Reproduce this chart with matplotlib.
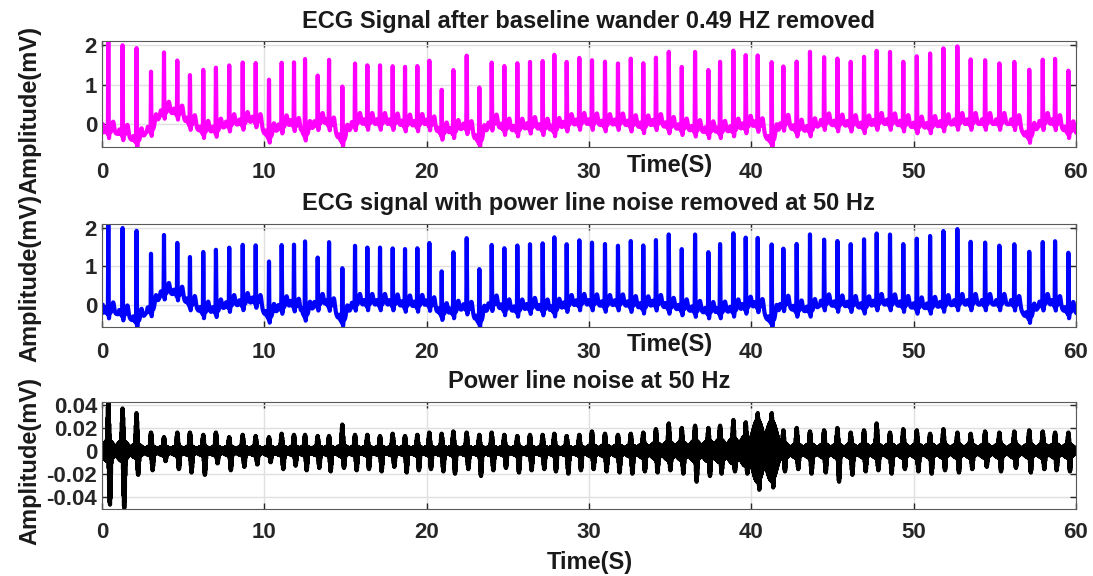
import numpy as np
import matplotlib
matplotlib.use("Agg")
from matplotlib import pyplot as plt

plt.rcParams['font.family'] = ['Liberation Sans', 'DejaVu Sans']
plt.rcParams['font.weight'] = 'bold'

# R-peak times (s)
beat_t = [0.39, 1.27, 2.13, 3.02, 3.82, 4.64, 5.42, 6.24, 7.02, 7.84,
          8.67, 9.47, 10.29, 11.07, 11.83, 12.51, 13.29, 13.99, 14.81, 15.59,
          16.35, 17.13, 17.91, 18.67, 19.43, 20.17, 20.93, 21.65, 22.47, 23.25,
          24.01, 24.79, 25.59, 26.37, 27.15, 27.87, 28.63, 29.41, 30.19, 30.99,
          31.79, 32.58, 33.35, 34.13, 34.92, 35.72, 36.54, 37.36, 38.08, 38.90,
          39.66, 40.40, 41.26, 41.98, 42.80, 43.62, 44.49, 45.31, 46.13, 46.95,
          47.73, 48.55, 49.37, 50.20, 51.02, 51.84, 52.70, 53.52, 54.41, 55.29,
          56.21, 57.13, 57.96, 58.72, 59.54]

# R-peak amplitude (mV)
r_peak = [2.08, 2.00, 1.92, 1.32, 1.83, 1.62, 1.24, 1.37, 1.43, 1.49,
          1.56, 1.56, 1.11, 1.56, 1.59, 1.62, 1.24, 1.64, 0.93, 1.55,
          1.49, 1.49, 1.47, 1.45, 1.47, 1.62, 0.86, 1.37, 1.75, 0.90,
          1.58, 1.47, 1.54, 1.58, 1.60, 1.75, 1.58, 1.68, 1.62, 1.58,
          1.54, 1.66, 1.54, 1.69, 1.83, 1.45, 1.83, 1.37, 1.58, 1.86,
          1.75, 1.75, 1.54, 1.49, 1.58, 1.83, 1.70, 1.66, 1.58, 1.70,
          1.86, 1.83, 1.58, 1.72, 1.79, 1.92, 1.97, 1.64, 1.62, 1.54,
          1.58, 1.37, 1.64, 1.66, 1.35]

# lowest point around each beat (mV)
trough = [-0.36, -0.41, -0.59, -0.32, 0.14, 0.12, -0.15, -0.36, -0.33, -0.19,
          -0.15, -0.07, -0.49, -0.24, -0.15, -0.45, -0.15, -0.15, -0.59, -0.15,
          -0.15, -0.15, -0.15, -0.19, -0.19, -0.15, -0.41, -0.36, -0.24, -0.62,
          -0.15, -0.28, -0.32, -0.24, -0.28, -0.32, -0.19, -0.15, -0.15, -0.19,
          -0.15, -0.19, -0.24, -0.15, -0.24, -0.28, -0.32, -0.36, -0.36, -0.32,
          -0.24, -0.19, -0.62, -0.15, -0.32, -0.32, -0.15, -0.19, -0.19, -0.24,
          -0.15, -0.15, -0.19, -0.24, -0.24, -0.19, -0.15, -0.15, -0.15, -0.15,
          -0.15, -0.49, -0.15, -0.15, -0.36]

# removed 50 Hz noise around each beat: upper / lower excursion (mV)
noise_up = [0.043, 0.037, 0.033, 0.016, 0.012, 0.016, 0.016, 0.014, 0.016, 0.012,
            0.014, 0.013, 0.012, 0.015, 0.014, 0.014, 0.013, 0.013, 0.023, 0.014,
            0.014, 0.013, 0.015, 0.013, 0.014, 0.016, 0.015, 0.017, 0.016, 0.014,
            0.016, 0.014, 0.013, 0.014, 0.014, 0.015, 0.013, 0.014, 0.017, 0.015,
            0.014, 0.015, 0.016, 0.019, 0.024, 0.020, 0.022, 0.020, 0.022, 0.027,
            0.025, 0.033, 0.033, 0.018, 0.020, 0.017, 0.018, 0.020, 0.016, 0.018,
            0.024, 0.016, 0.019, 0.018, 0.015, 0.019, 0.016, 0.015, 0.017, 0.016,
            0.017, 0.018, 0.017, 0.016, 0.016]
noise_dn = [0.047, 0.050, 0.021, 0.017, 0.009, 0.016, 0.019, 0.021, 0.011, 0.017,
            0.014, 0.012, 0.010, 0.016, 0.013, 0.017, 0.015, 0.018, 0.015, 0.017,
            0.016, 0.018, 0.014, 0.019, 0.017, 0.016, 0.018, 0.020, 0.016, 0.022,
            0.017, 0.015, 0.019, 0.017, 0.016, 0.018, 0.020, 0.017, 0.016, 0.018,
            0.019, 0.020, 0.018, 0.019, 0.017, 0.020, 0.027, 0.022, 0.020, 0.018,
            0.020, 0.034, 0.032, 0.018, 0.016, 0.020, 0.019, 0.027, 0.021, 0.018,
            0.017, 0.020, 0.016, 0.018, 0.020, 0.017, 0.019, 0.016, 0.014, 0.018,
            0.015, 0.019, 0.016, 0.017, 0.018]
# steady hum level between beats (mV)
hum = [0.009, 0.009, 0.006, 0.004, 0.004, 0.004, 0.004, 0.004, 0.004, 0.004,
       0.004, 0.004, 0.004, 0.004, 0.004, 0.004, 0.004, 0.004, 0.005, 0.004,
       0.004, 0.004, 0.004, 0.004, 0.004, 0.004, 0.004, 0.004, 0.004, 0.004,
       0.004, 0.004, 0.004, 0.004, 0.004, 0.004, 0.004, 0.004, 0.005, 0.005,
       0.005, 0.005, 0.006, 0.007, 0.008, 0.008, 0.009, 0.009, 0.010, 0.011,
       0.013, 0.027, 0.026, 0.007, 0.006, 0.006, 0.006, 0.006, 0.006, 0.006,
       0.006, 0.006, 0.006, 0.006, 0.006, 0.006, 0.006, 0.006, 0.006, 0.006,
       0.006, 0.006, 0.006, 0.006, 0.006]

fs = 1000
t = np.arange(0, 60, 1 / fs)


def g(x, w):
    return np.exp(-0.5 * (x / w) ** 2)


# build ECG trace from per-beat values
weight = np.zeros_like(t)
base_acc = np.zeros_like(t)
for bt, tr in zip(beat_t, trough):
    w = g(t - bt, 0.3)
    base_acc += w * (tr + 0.15)
    weight += w
base = base_acc / np.maximum(weight, 1e-9)
ecg = base.copy()
for bt, rp, tr in zip(beat_t, r_peak, trough):
    dt = t - bt
    b = tr + 0.15
    ecg += 0.12 * g(dt + 0.2, 0.03)
    ecg -= 0.08 * g(dt + 0.03, 0.01)
    ecg += (rp - b) * g(dt, 0.012)
    ecg -= 0.15 * g(dt - 0.04, 0.015)
    ecg += 0.28 * g(dt - 0.3, 0.06)
ecg[t < 0.05] = 0.0

# removed power line noise
env_up = np.zeros_like(t)
env_dn = np.zeros_like(t)
hum_env = np.zeros_like(t)
for bt, nu, nd, h in zip(beat_t, noise_up, noise_dn, hum):
    env_up = np.maximum(env_up, nu * g(t - bt, 0.05))
    env_dn = np.maximum(env_dn, nd * g(t - bt - 0.1, 0.05))
    hum_env = np.maximum(hum_env, h * g(t - bt, 0.3))
s = np.sin(2 * np.pi * 50 * t)
noise = np.where(s > 0, s * np.maximum(env_up, hum_env), s * np.maximum(env_dn, hum_env))

fig = plt.figure(figsize=(10.93, 5.76), dpi=100)
L, W = 0.0933, 0.891
ax1 = fig.add_axes([L, 0.7448, W, 0.184])
ax2 = fig.add_axes([L, 0.4323, W, 0.179])
ax3 = fig.add_axes([L, 0.1163, W, 0.186])

ax1.plot(t, ecg, color=(1, 0, 1), lw=3)
ax2.plot(t, ecg, color=(0, 0, 1), lw=3)
ax3.plot(t, noise, color='k', lw=3)

titles = ['ECG Signal after baseline wander 0.49 HZ removed',
          'ECG signal with power line noise removed at 50 Hz',
          'Power line noise at 50 Hz']
for ax, ttl in zip([ax1, ax2, ax3], titles):
    ax.set_xlim(0, 60)
    ax.set_xticks([0, 10, 20, 30, 40, 50, 60])
    ax.grid(True, color='0.88', lw=1)
    ax.set_axisbelow(True)
    ax.tick_params(direction='in', length=4, top=True, right=True,
                   labelsize=16, colors='0.15', labelcolor='0.15', width=1)
    for sp in ax.spines.values():
        sp.set_color('0.35')
    h = ax.get_position().height * 576
    ax.set_title(ttl, fontsize=17, fontweight='bold', y=1 + 20 / h, pad=0,
                 va='center', color='0.1')

for ax in [ax1, ax2]:
    ax.set_ylim(-0.58, 2.1)
    ax.set_yticks([0, 1, 2])
    ax.tick_params(axis='x', pad=11)
    ax.set_xlabel('Time(S)', fontsize=17, fontweight='bold', va='center', color='0.1')
    ax.xaxis.set_label_coords(0.583, -0.17)

ax3.set_ylim(-0.0505, 0.0425)
ax3.set_yticks([-0.04, -0.02, 0, 0.02, 0.04])
ax3.set_yticklabels(['-0.04', '-0.02', '0', '0.02', '0.04'])
ax3.tick_params(axis='x', pad=9)
ax3.set_xlabel('Time(S)', fontsize=17, fontweight='bold', va='center', color='0.1')
ax3.xaxis.set_label_coords(0.501, -0.495)

for ax, y in zip([ax1, ax2, ax3], [0.349, 0.476, 0.449]):
    ax.set_ylabel('Amplitude(mV)', fontsize=17, fontweight='bold', va='center', color='0.1')
    ax.yaxis.set_label_coords(-0.074, y)

fig.savefig('out.png', dpi=100)
